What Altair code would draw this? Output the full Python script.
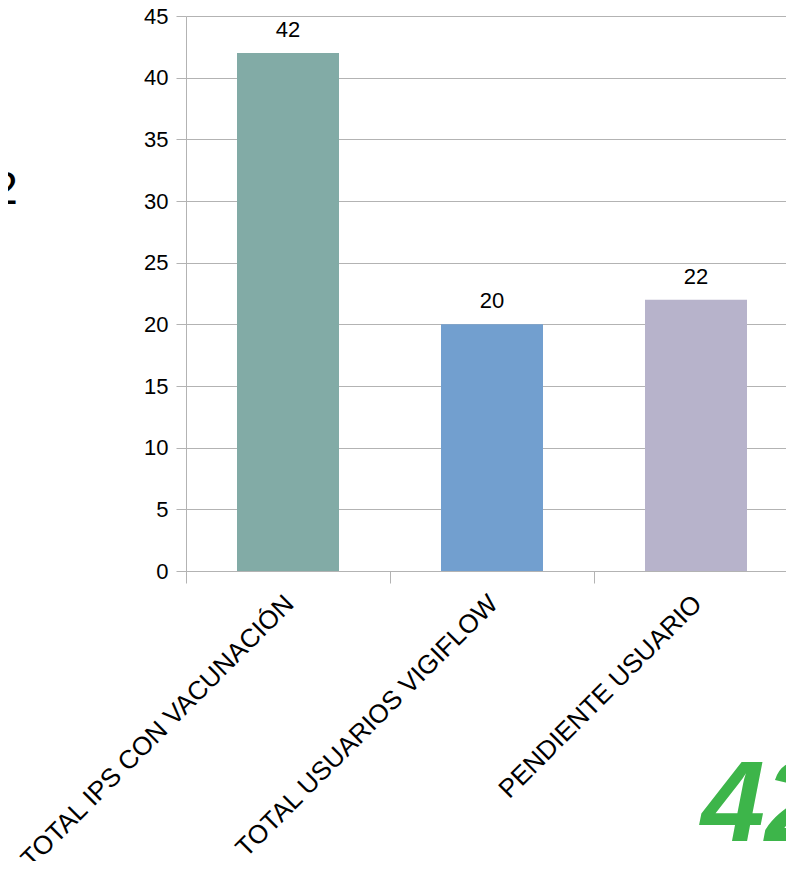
import altair as alt
import pandas as pd

categories = ["TOTAL IPS CON VACUNACIÓN", "TOTAL USUARIOS VIGIFLOW", "PENDIENTE USUARIO"]
values = [42, 20, 22]
colors = ["#82aba6", "#729fcf", "#b7b3cb"]
y_ticks = [0, 5, 10, 15, 20, 25, 30, 35, 40, 45]

df = pd.DataFrame({"cat": categories, "val": values, "color": colors})

FONT = "Liberation Sans"
GRID = "#b3b3b3"

x_enc = alt.X(
    "cat:N",
    sort=categories,
    scale=alt.Scale(range=[0, 612], paddingInner=0, paddingOuter=0),
    axis=alt.Axis(
        title=None, labelAngle=-45, labelAlign="right", labelBaseline="top",
        labelFontSize=26, labelFont=FONT, labelColor="black",
        tickBand="extent", tickSize=12, tickColor=GRID, domainColor=GRID,
        labelPadding=7, labelOffset=-8, labelLimit=0, grid=False,
    ),
)
y_enc = alt.Y(
    "val:Q",
    scale=alt.Scale(domain=[0, 45], nice=False),
    axis=alt.Axis(
        title=None, values=y_ticks, labelFontSize=22, labelFont=FONT,
        labelColor="black", tickSize=10, tickColor=GRID, domainColor=GRID,
        gridColor=GRID, labelPadding=8,
    ),
)

base = alt.Chart(df)
bars = base.mark_bar(width=alt.RelativeBandSize(0.5)).encode(
    x=x_enc, y=y_enc, color=alt.Color("color:N", scale=None)
)
labels = base.mark_text(baseline="alphabetic", dy=-16, fontSize=22, font=FONT, color="black").encode(
    x=alt.X("cat:N", sort=categories), y="val:Q", text="val:Q"
)

side = alt.Chart(pd.DataFrame({"t": ["2"]})).mark_text(
    align="right", baseline="middle", fontSize=47, font=FONT, color="black"
).encode(x=alt.value(-168), y=alt.value(174), text="t:N")

logo = alt.Chart(pd.DataFrame({"t": ["42"]})).mark_text(
    align="left", baseline="middle", fontSize=115, font=FONT, fontWeight="bold",
    fontStyle="italic", color="#3db54a"
).encode(x=alt.value(515), y=alt.value(790), text="t:N")

chart = alt.layer(bars, labels, side, logo).properties(
    width=600, height=555,
    autosize=alt.AutoSizeParams(type="none"),
    padding={"left": 178, "top": 8, "right": 0, "bottom": 290},
).configure_view(stroke=None).configure_axis(labelFont=FONT)

chart.save("out.html", embed_options={"renderer": "svg", "actions": False})
